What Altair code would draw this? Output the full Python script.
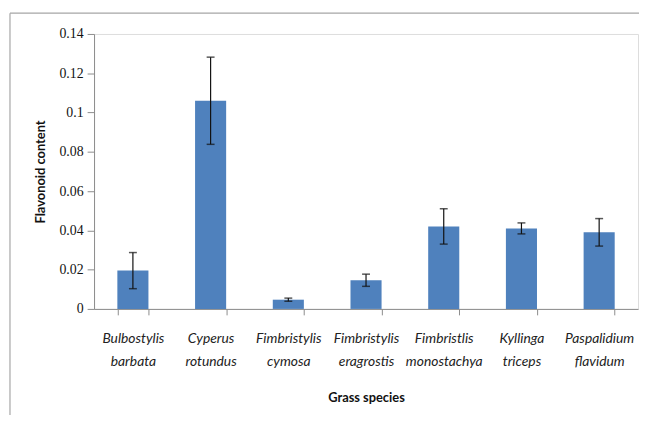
import altair as alt
import pandas as pd

species = ["Bulbostylis barbata", "Cyperus rotundus", "Fimbristylis cymosa",
           "Fimbristylis eragrostis", "Fimbristlis monostachya",
           "Kyllinga triceps", "Paspalidium flavidum"]
means = [0.0195, 0.106, 0.0047, 0.0146, 0.042, 0.041, 0.039]
errors = [0.0092, 0.0222, 0.0008, 0.0031, 0.009, 0.0028, 0.007]
y_ticks = [0, 0.02, 0.04, 0.06, 0.08, 0.1, 0.12, 0.14]

df = pd.DataFrame({"species": species, "mean": means, "err": errors})

x_enc = alt.X("species:N", sort=species, title="Grass species",
              scale=alt.Scale(paddingInner=0.6, paddingOuter=0.3),
              axis=alt.Axis(labelAngle=0, tickBand="extent", grid=False,
                            labelExpr="split(datum.label, ' ')",
                            labelFont="Lato", labelFontSize=14, labelFontStyle="italic",
                            labelColor="#222", labelLineHeight=23, labelPadding=17,
                            labelBaseline="top",
                            titleFont="Lato", titleFontSize=13, titleFontWeight="bold",
                            titleColor="#111", titlePadding=24,
                            domainColor="#8c8c8c", tickColor="#8c8c8c", tickSize=6))

y_scale = alt.Scale(domain=[0, 0.14], nice=False)
y_axis = alt.Axis(values=y_ticks, grid=False, labelOverlap=False,
                  labelExpr="format(datum.value, '.2~f')",
                  labelFont="Liberation Serif", labelFontSize=14,
                  labelColor="#111", labelPadding=4,
                  titleFont="Lato", titleFontSize=13, titleFontWeight="bold",
                  titleColor="#111", titlePadding=12,
                  domainColor="#8c8c8c", tickColor="#8c8c8c", tickSize=7)
y_title = "Flavonoid content"

base = alt.Chart(df)
one = pd.DataFrame({"a": [0]})

border_top = alt.Chart(one).mark_rule(
    color="#a6a6a6", strokeWidth=1.2, clip=False
).encode(x=alt.value(-85), x2=alt.value(600), y=alt.value(-21))
border_left = alt.Chart(one).mark_rule(
    color="#a6a6a6", strokeWidth=1.2, clip=False
).encode(x=alt.value(-85), y=alt.value(-21), y2=alt.value(420))

bars = base.mark_bar(color="#4F81BD").encode(
    x=x_enc,
    y=alt.Y("mean:Q", scale=y_scale, title=y_title, axis=y_axis)
)

calc = base.transform_calculate(lo="datum.mean - datum.err", hi="datum.mean + datum.err")

rules = calc.mark_rule(color="#111", strokeWidth=1.2).encode(
    x=x_enc,
    y=alt.Y("lo:Q", scale=y_scale, title=y_title, axis=y_axis),
    y2="hi:Q"
)
cap_hi = calc.mark_tick(color="#111", size=8, thickness=1.5).encode(
    x=x_enc, y=alt.Y("hi:Q", scale=y_scale, title=y_title, axis=y_axis))
cap_lo = calc.mark_tick(color="#111", size=8, thickness=1.5).encode(
    x=x_enc, y=alt.Y("lo:Q", scale=y_scale, title=y_title, axis=y_axis))

chart = alt.layer(border_top, border_left, bars, rules, cap_hi, cap_lo).properties(
    width=550, height=278,
    autosize=alt.AutoSizeParams(type="none"),
    padding={"left": 87, "top": 24, "right": 1, "bottom": 105}
).configure_view(stroke="transparent", strokeWidth=0).configure(background="white")

chart.save("out.html", embed_options={"renderer": "svg", "actions": False})
